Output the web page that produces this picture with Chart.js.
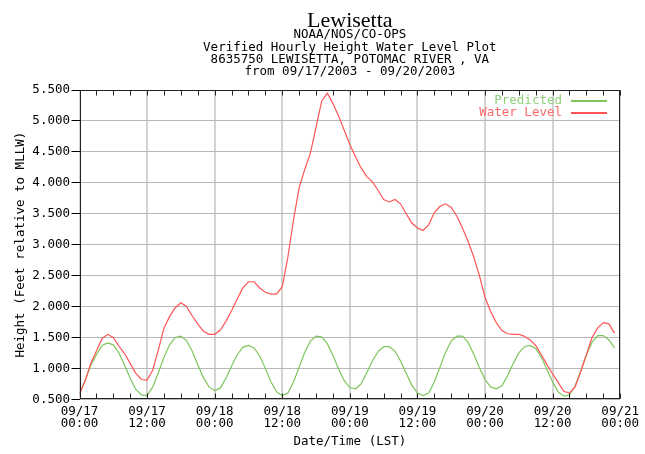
<!DOCTYPE html>
<html>
<head>
<meta charset="utf-8">
<script src="https://cdn.jsdelivr.net/npm/chart.js@4.4.0/dist/chart.umd.min.js"></script>
<style>
  html, body { margin: 0; padding: 0; background: #fff; }
</style>
</head>
<body>
<canvas id="chart" width="645" height="454"></canvas>
<script>
// hours since 09/17/2003 00:00 LST
const hours = Array.from({ length: 96 }, (_, i) => i);

const predicted = [
    0.60, 0.80, 1.05, 1.22, 1.37, 1.41, 1.38, 1.25, 1.05, 0.84, 0.66, 0.57,
    0.56, 0.70, 0.93, 1.18, 1.38, 1.50, 1.52, 1.45, 1.28, 1.06, 0.85, 0.70,
    0.64, 0.68, 0.84, 1.04, 1.22, 1.34, 1.37, 1.33, 1.20, 1.00, 0.78, 0.62,
    0.56, 0.60, 0.78, 1.02, 1.26, 1.44, 1.52, 1.51, 1.40, 1.21, 0.99, 0.80,
    0.69, 0.67, 0.75, 0.93, 1.12, 1.27, 1.35, 1.35, 1.28, 1.12, 0.92, 0.73,
    0.60, 0.56, 0.60, 0.78, 1.02, 1.26, 1.44, 1.52, 1.52, 1.42, 1.23, 1.01,
    0.82, 0.70, 0.67, 0.72, 0.88, 1.08, 1.25, 1.35, 1.37, 1.32, 1.18, 0.98,
    0.78, 0.62, 0.55, 0.57, 0.72, 0.96, 1.22, 1.42, 1.53, 1.53, 1.46, 1.33
];

const waterLevel = [
    0.58, 0.80, 1.08, 1.28, 1.48, 1.55, 1.50, 1.36, 1.24, 1.08, 0.92, 0.82,
    0.81, 0.97, 1.30, 1.65, 1.84, 1.98, 2.06, 2.00, 1.85, 1.72, 1.60, 1.55,
    1.55, 1.62, 1.76, 1.93, 2.12, 2.30, 2.40, 2.40, 2.30, 2.23, 2.20, 2.20,
    2.32, 2.80, 3.40, 3.92, 4.22, 4.48, 4.90, 5.32, 5.45, 5.28, 5.08, 4.85,
    4.62, 4.42, 4.24, 4.10, 4.02, 3.88, 3.73, 3.69, 3.73, 3.66, 3.50, 3.35,
    3.27, 3.23, 3.32, 3.52, 3.62, 3.66, 3.60, 3.46, 3.27, 3.05, 2.80, 2.50,
    2.15, 1.92, 1.74, 1.61, 1.56, 1.55, 1.55, 1.52, 1.46, 1.37, 1.22, 1.06,
    0.91, 0.77, 0.63, 0.60, 0.70, 0.95, 1.22, 1.50, 1.65, 1.74, 1.72, 1.57
];

const xDayLabels = ['09/17', '09/17', '09/18', '09/18', '09/19', '09/19', '09/20', '09/20', '09/21'];
const xTimeLabels = ['00:00', '12:00', '00:00', '12:00', '00:00', '12:00', '00:00', '12:00', '00:00'];

const headerLines = [
    'NOAA/NOS/CO-OPS',
    'Verified Hourly Height Water Level Plot',
    '8635750 LEWISETTA, POTOMAC RIVER , VA',
    'from 09/17/2003 - 09/20/2003'
];
const headerY = [35, 48, 60, 72];

const GREEN = '#7cc65a';
const RED = '#ff5555';
const MONO = "'DejaVu Sans Mono', 'Liberation Mono', monospace";

// header, border, minor ticks and the in-plot legend
const plotDecorations = {
    id: 'plotDecorations',
    afterDatasetsDraw(chart) {
        const { ctx, chartArea: a, scales } = chart;
        const left = Math.round(a.left) + 0.5;
        const right = Math.round(a.right) - 0.5;
        const top = Math.round(a.top) + 0.5;
        const bottom = Math.round(a.bottom) - 0.5;
        ctx.save();
        ctx.strokeStyle = '#222';
        ctx.lineWidth = 1;
        ctx.strokeRect(left, top, right - left, bottom - top);

        // 3-hourly ticks on top and bottom edges
        ctx.beginPath();
        for (let h = 0; h <= 96; h += 3) {
            const x = Math.round(scales.x.getPixelForValue(h)) + 0.5;
            ctx.moveTo(x, bottom);
            ctx.lineTo(x, bottom - 5);
            ctx.moveTo(x, top);
            ctx.lineTo(x, top + 5);
        }
        ctx.stroke();

        // legend
        ctx.font = '12.5px ' + MONO;
        ctx.textAlign = 'right';
        ctx.textBaseline = 'middle';
        const items = [['Predicted', '#8fd27a', GREEN, 101], ['Water Level', '#ff6a6a', RED, 113]];
        items.forEach(([text, txtColor, lineColor, y]) => {
            ctx.fillStyle = txtColor;
            ctx.fillText(text, 562, y);
            ctx.strokeStyle = lineColor;
            ctx.lineWidth = 2;
            ctx.beginPath();
            ctx.moveTo(571, y);
            ctx.lineTo(607, y);
            ctx.stroke();
        });
        ctx.restore();
    },
    afterDraw(chart) {
        const { ctx, chartArea: a } = chart;
        const cx = (a.left + a.right) / 2;
        ctx.save();
        ctx.fillStyle = '#000';
        ctx.textAlign = 'center';
        ctx.textBaseline = 'alphabetic';
        ctx.font = "22px 'Liberation Serif', 'Times New Roman', serif";
        ctx.fillText('Lewisetta', cx, 27);
        ctx.font = '12.5px ' + MONO;
        ctx.textBaseline = 'middle';
        headerLines.forEach((line, i) => {
            ctx.fillText(line, cx, headerY[i]);
        });
        ctx.restore();
    }
};

const ctx = document.getElementById('chart');
new Chart(ctx, {
    type: 'line',
    data: {
        datasets: [
            {
                label: 'Water Level',
                data: hours.map((h, i) => ({ x: h, y: waterLevel[i] })),
                borderColor: RED,
                borderWidth: 1.2,
                pointRadius: 0,
                tension: 0,
                fill: false,
                order: 0
            },
            {
                label: 'Predicted',
                data: hours.map((h, i) => ({ x: h, y: predicted[i] })),
                borderColor: GREEN,
                borderWidth: 1.2,
                pointRadius: 0,
                tension: 0,
                fill: false,
                order: 1
            }
        ]
    },
    options: {
        responsive: false,
        animation: false,
        layout: { padding: { top: 90, right: 23, left: 0, bottom: 0 } },
        plugins: {
            legend: { display: false },
            tooltip: { enabled: false }
        },
        scales: {
            x: {
                type: 'linear',
                min: 0,
                max: 96,
                afterFit: (scale) => { scale.height = 54.7; },
                grid: { color: '#d4d4d4', lineWidth: 2, drawTicks: false },
                border: { display: false },
                ticks: {
                    stepSize: 12,
                    autoSkip: false,
                    maxRotation: 0,
                    padding: 6,
                    color: '#000',
                    font: { family: MONO, size: 12.5, lineHeight: 1 },
                    callback: (value) => {
                        const idx = Math.round(value / 12);
                        return [xDayLabels[idx], xTimeLabels[idx]];
                    }
                },
                title: {
                    display: true,
                    text: 'Date/Time (LST)',
                    color: '#000',
                    font: { family: MONO, size: 12.5 },
                    padding: { top: 0, bottom: 5 }
                }
            },
            y: {
                min: 0.5,
                max: 5.5,
                afterFit: (scale) => { scale.width = 79.5; },
                grid: { color: '#b9b9b9', lineWidth: 1, tickColor: '#000', tickLength: 8 },
                border: { display: false },
                ticks: {
                    stepSize: 0.5,
                    padding: 1.5,
                    color: '#000',
                    font: { family: MONO, size: 12.5 },
                    callback: (value) => value.toFixed(3)
                },
                title: {
                    display: true,
                    text: 'Height (Feet relative to MLLW)',
                    color: '#000',
                    font: { family: MONO, size: 12.5 },
                    padding: { top: 13, bottom: 0 }
                }
            }
        }
    },
    plugins: [plotDecorations]
});
</script>
</body>
</html>
